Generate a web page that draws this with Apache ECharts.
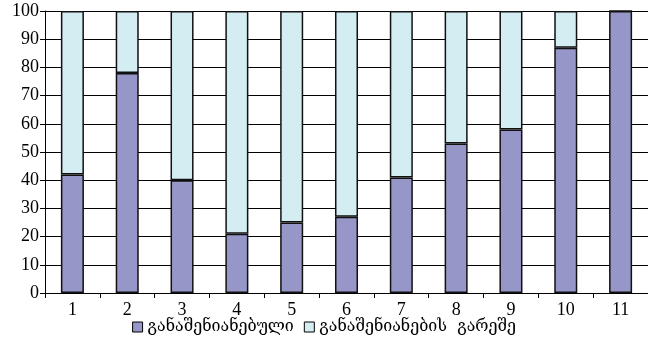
<!DOCTYPE html>
<html>
<head>
<meta charset="utf-8">
<script src="https://cdn.jsdelivr.net/npm/echarts@6/dist/echarts.min.js"></script>
<style>
  html, body { margin: 0; padding: 0; background: #fff; }
  #chart { width: 648px; height: 354px; }
</style>
</head>
<body>
<div id="chart"></div>
<script>
  var categories = ['1', '2', '3', '4', '5', '6', '7', '8', '9', '10', '11'];
  var builtUp = [42, 78, 40, 21, 25, 27, 41, 53, 58, 87, 100];
  var notBuiltUp = [58, 22, 60, 79, 75, 73, 59, 47, 42, 13, 0];
  var seriesNames = ['განაშენიანებული', 'განაშენიანების  გარეშე'];

  var font = 'Liberation Serif';
  var chart = echarts.init(document.getElementById('chart'));
  chart.setOption({
    animation: false,
    textStyle: { fontFamily: font },
    grid: { left: 45, right: -2, top: 11, bottom: 61 },
    legend: {
      bottom: 14,
      left: 'center',
      icon: 'rect',
      itemWidth: 10,
      itemHeight: 10,
      itemGap: 10,
      itemStyle: { borderColor: '#000', borderWidth: 1 },
      textStyle: { fontFamily: 'DejaVu Serif', fontSize: 16, color: '#000' },
      data: seriesNames
    },
    xAxis: {
      type: 'category',
      data: categories,
      axisLine: { lineStyle: { color: '#000', width: 1 } },
      axisTick: { show: true, length: 5, alignWithLabel: false, lineStyle: { color: '#000' } },
      axisLabel: { color: '#000', fontSize: 18, fontFamily: font, margin: 8 }
    },
    yAxis: {
      type: 'value',
      min: 0, max: 100, interval: 10,
      axisLine: { show: true, lineStyle: { color: '#000', width: 1 } },
      axisTick: { show: true, length: 5, lineStyle: { color: '#000' } },
      axisLabel: { color: '#000', fontSize: 18, fontFamily: font, margin: 6 },
      splitLine: { lineStyle: { color: '#000', width: 1 } }
    },
    series: [
      {
        name: seriesNames[0], type: 'bar', stack: 'a', data: builtUp, barWidth: '42%',
        itemStyle: { color: '#9696c8', borderColor: '#111', borderWidth: 1.5 }
      },
      {
        name: seriesNames[1], type: 'bar', stack: 'a', data: notBuiltUp, barWidth: '42%',
        itemStyle: { color: '#d4edf3', borderColor: '#111', borderWidth: 1.5 }
      }
    ]
  });
</script>
</body>
</html>
